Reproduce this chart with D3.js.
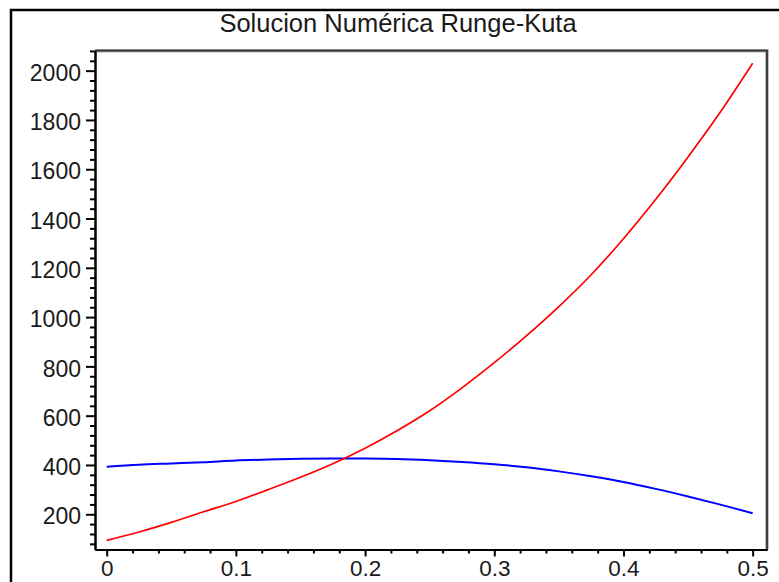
<!DOCTYPE html>
<html>
<head>
<meta charset="utf-8">
<script src="https://cdn.jsdelivr.net/npm/d3@7"></script>
<style>
  html, body { margin: 0; padding: 0; background: #fff; }
  svg { display: block; }
  text { font-family: "Liberation Sans", Arial, sans-serif; fill: #1a1a1a; }
</style>
</head>
<body>
<svg id="chart" width="779" height="582"></svg>
<script>
// Runge-Kutta numerical solution, sampled every 0.025
const tValues = [0, 0.025, 0.05, 0.075, 0.1, 0.125, 0.15, 0.175, 0.2, 0.225, 0.25,
                 0.275, 0.3, 0.325, 0.35, 0.375, 0.4, 0.425, 0.45, 0.475, 0.5];
const redSeries = [94, 128, 167, 210, 252, 300, 350, 405, 468, 540, 620,
                   713, 815, 925, 1043, 1172, 1318, 1478, 1650, 1832, 2030];
const blueSeries = [393, 401, 406, 411, 418, 422, 425, 426, 426, 424, 419,
                    412, 403, 391, 374, 354, 331, 303, 272, 239, 204];

const xTickValues = [0, 0.1, 0.2, 0.3, 0.4, 0.5];
const yTickValues = [200, 400, 600, 800, 1000, 1200, 1400, 1600, 1800, 2000];
const xView = [-0.00906, 0.5111];
const yView = [57, 2081];
const titleText = "Solucion Numérica Runge-Kuta";

const svg = d3.select("#chart");
const W = 779, H = 582;
const plot = { left: 95, right: 767, top: 50.7, bottom: 549.5 };

const x = d3.scaleLinear().domain(xView).range([plot.left, plot.right]);
const y = d3.scaleLinear().domain(yView).range([plot.bottom, plot.top]);

// outer window border (left and top edges)
svg.append("path")
  .attr("d", `M11,${H} L11,10 L${W},10`)
  .attr("fill", "none").attr("stroke", "#000").attr("stroke-width", 2.5);

// title
svg.append("text")
  .attr("x", 398).attr("y", 32)
  .attr("text-anchor", "middle")
  .attr("font-size", 25.5)
  .text(titleText);

// box: top and right edges
const boxPath = `M${plot.left},${plot.top} L${plot.right},${plot.top} L${plot.right},${plot.bottom}`;
svg.append("path").attr("d", boxPath)
  .attr("fill", "none").attr("stroke", "#aaa").attr("stroke-width", 3.5);
svg.append("path").attr("d", boxPath)
  .attr("fill", "none").attr("stroke", "#333").attr("stroke-width", 1.8);

// minor ticks
const yMinor = d3.range(80, 2081, 40).filter(v => v >= yView[0] && v % 200 !== 0);
const xMinor = d3.range(0, 0.5001, 0.02).filter(v => Math.abs(v * 10 - Math.round(v * 10)) > 1e-6);

const yAxis = d3.axisLeft(y).tickValues(yTickValues).tickSize(9).tickSizeOuter(0).tickPadding(5)
  .tickFormat(d3.format("d"));
const yMinorAxis = d3.axisLeft(y).tickValues(yMinor).tickSize(5).tickSizeOuter(0).tickFormat("");
const xAxis = d3.axisBottom(x).tickValues(xTickValues).tickSize(7).tickSizeOuter(0).tickPadding(4)
  .tickFormat(d => d === 0 ? "0" : d3.format(".1f")(d));
const xMinorAxis = d3.axisBottom(x).tickValues(xMinor).tickSize(4).tickSizeOuter(0).tickFormat("");

function styleAxis(g) {
  g.select(".domain").attr("stroke", "#000").attr("stroke-width", 2);
  g.selectAll(".tick line").attr("stroke", "#000").attr("stroke-width", 2);
  g.selectAll(".tick text").attr("fill", "#1a1a1a").attr("font-family", "Liberation Sans, Arial, sans-serif");
}

svg.append("g").attr("transform", `translate(${plot.left},0)`).call(yMinorAxis).call(styleAxis);
const gy = svg.append("g").attr("transform", `translate(${plot.left},0)`).call(yAxis).call(styleAxis);
gy.selectAll(".tick text").attr("font-size", 23).attr("dy", "0.42em");

svg.append("g").attr("transform", `translate(0,${plot.bottom})`).call(xMinorAxis).call(styleAxis);
const gx = svg.append("g").attr("transform", `translate(0,${plot.bottom})`).call(xAxis).call(styleAxis);
gx.selectAll(".tick text").attr("font-size", 22.5);

// curves
const line = (series) => d3.line()
  .x((d, i) => x(tValues[i]))
  .y(d => y(d))
  .curve(d3.curveCatmullRom)(series);

svg.append("path").attr("d", line(blueSeries))
  .attr("fill", "none").attr("stroke", "#0000ff").attr("stroke-width", 2);
svg.append("path").attr("d", line(redSeries))
  .attr("fill", "none").attr("stroke", "#ff0000").attr("stroke-width", 1.7);
</script>
</body>
</html>
